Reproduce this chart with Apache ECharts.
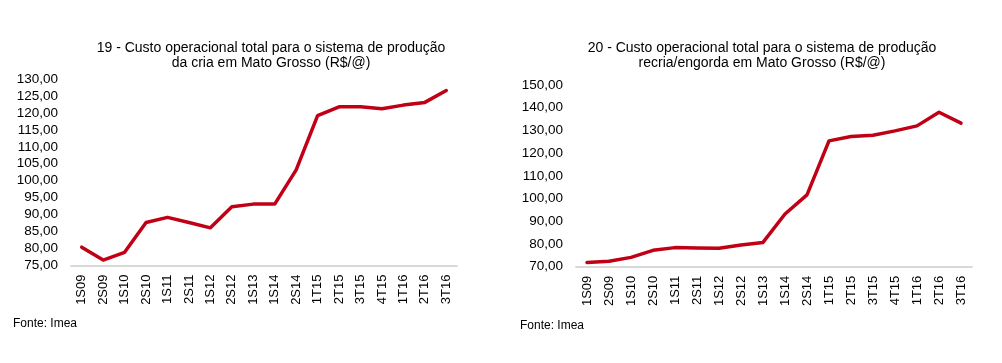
<!DOCTYPE html>
<html><head><meta charset="utf-8">
<script src="https://cdn.jsdelivr.net/npm/echarts@6/dist/echarts.min.js"></script>
<style>html,body{margin:0;padding:0;background:#fff}#c{width:1002px;height:363px}</style>
</head><body><div id="c"></div>
<script>
const categoriesLeft = ['1S09','2S09','1S10','2S10','1S11','2S11','1S12','2S12','1S13','1S14','2S14','1T15','2T15','3T15','4T15','1T16','2T16','3T16'];
const valuesLeft = [80.4,76.6,78.9,87.7,89.2,87.7,86.1,92.3,93.1,93.1,103.2,119.2,121.8,121.8,121.2,122.3,123.1,126.6];
const categoriesRight = ['1S09','2S09','1S10','2S10','1S11','2S11','1S12','2S12','1S13','1S14','2S14','1T15','2T15','3T15','4T15','1T16','2T16','3T16'];
const valuesRight = [71.9,72.4,74.1,77.2,78.4,78.2,78.1,79.6,80.7,93.2,101.6,125.4,127.3,127.9,129.8,132.0,138.0,133.2];
const titleLeft = '19 - Custo operacional total para o sistema de produção\nda cria em Mato Grosso (R$/@)';
const titleRight = '20 - Custo operacional total para o sistema de produção\nrecria/engorda em Mato Grosso (R$/@)';
const sourceText = 'Fonte: Imea';

const FONT = '"Liberation Sans", Arial, Helvetica, sans-serif';
const fmt = v => v.toFixed(2).replace('.', ',');
const chart = echarts.init(document.getElementById('c'), null, {renderer:'canvas'});
const axisLbl = {color:'#000', fontFamily:FONT, fontSize:13.5};
const xAxisCommon = {
  type:'category', boundaryGap:true,
  axisLine:{lineStyle:{color:'#d9d9d9', width:2}},
  axisTick:{show:false},
  axisLabel:{rotate:90, color:'#000', fontFamily:FONT, fontSize:13, margin:9, interval:0}
};
const yAxisCommon = {
  type:'value', splitLine:{show:false}, axisLine:{show:false}, axisTick:{show:false},
  axisLabel:Object.assign({formatter:fmt, margin:13}, axisLbl)
};
const lineStyle = {color:'#c00015', width:3.5, join:'round', cap:'round'};
const titleStyle = {fontFamily:FONT, fontSize:14, fontWeight:'normal', color:'#000', lineHeight:15.5};
const srcStyle = {fontFamily:FONT, fontSize:12, fontWeight:'normal', color:'#000'};
chart.setOption({
  animation:false,
  title:[
    {text:titleLeft, left:266, top:35, textAlign:'center', textStyle:titleStyle},
    {text:titleRight, left:757, top:35, textAlign:'center', textStyle:titleStyle},
    {text:sourceText, left:8, top:313, textStyle:srcStyle},
    {text:sourceText, left:515, top:315, textStyle:srcStyle}
  ],
  grid:[
    {left:71, top:79, width:386, height:186.5},
    {left:576, top:85, width:396, height:181.7}
  ],
  xAxis:[
    Object.assign({gridIndex:0, data:categoriesLeft}, xAxisCommon),
    Object.assign({gridIndex:1, data:categoriesRight}, xAxisCommon)
  ],
  yAxis:[
    Object.assign({gridIndex:0, min:75, max:130, interval:5}, yAxisCommon),
    Object.assign({gridIndex:1, min:70, max:150, interval:10}, yAxisCommon)
  ],
  series:[
    {type:'line', xAxisIndex:0, yAxisIndex:0, data:valuesLeft, showSymbol:false, symbol:'none', lineStyle},
    {type:'line', xAxisIndex:1, yAxisIndex:1, data:valuesRight, showSymbol:false, symbol:'none', lineStyle}
  ]
});
</script></body></html>
